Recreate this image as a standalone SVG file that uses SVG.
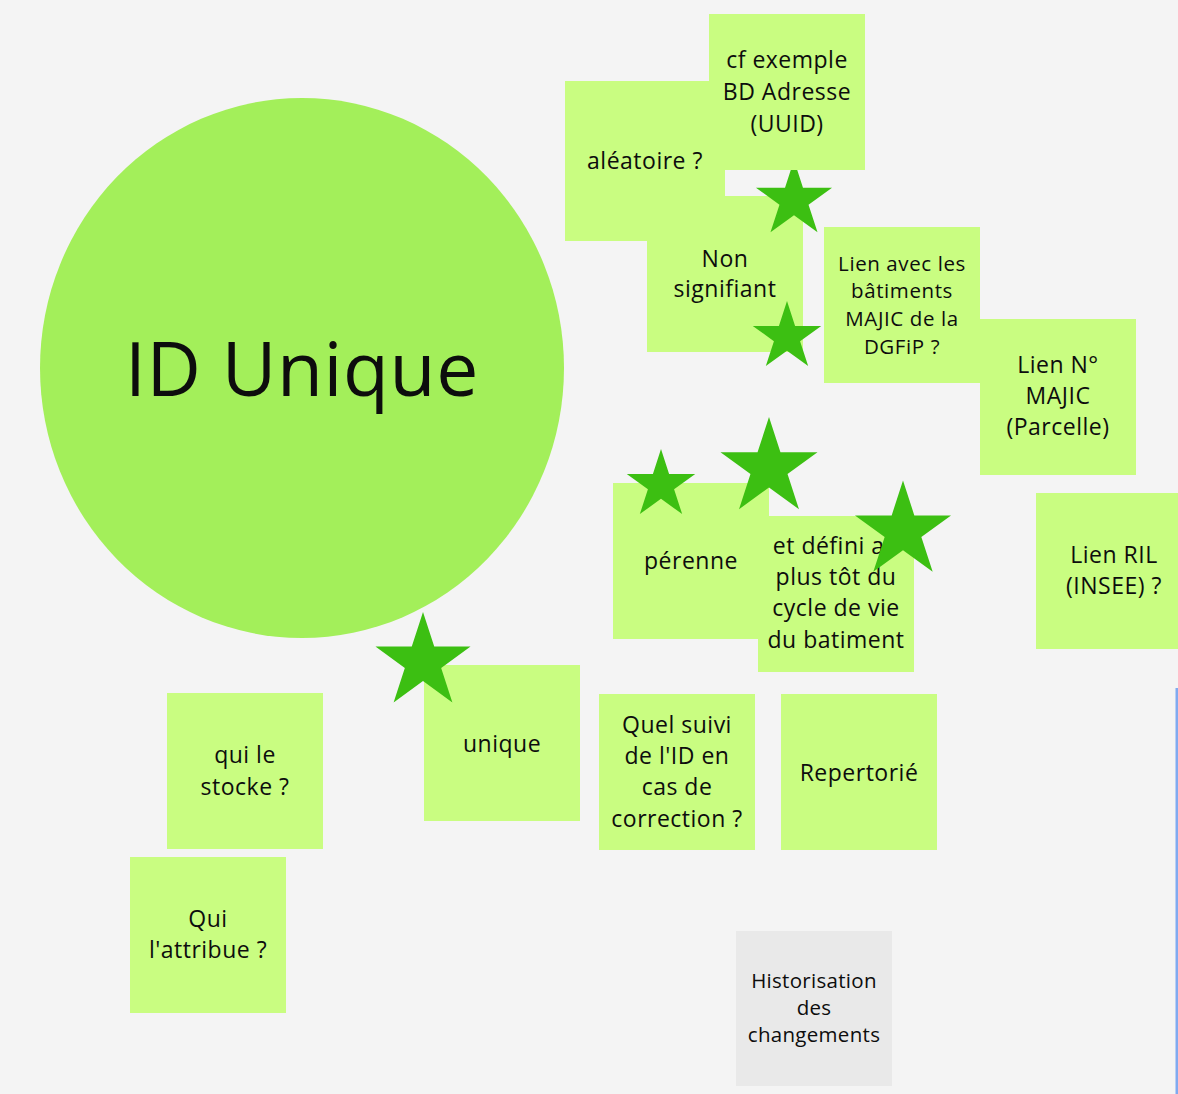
<svg xmlns="http://www.w3.org/2000/svg" xmlns:xlink="http://www.w3.org/1999/xlink" width="1178" height="1094" viewBox="0 0 1178 1094">
<style>
.bg{fill:#f4f4f4}
.note{fill:#c9fd81}
.grey{fill:#e9e9e9}
.star{fill:#3cbf12}
text{font-family:"Open Sans","Liberation Sans",sans-serif;fill:#0d0d0d;text-anchor:middle}
.t22{font-size:23px;letter-spacing:0.5px}
.t19{font-size:20.5px;letter-spacing:0.6px}
.t20{font-size:20.5px;letter-spacing:0.3px}
.big{font-size:75px;letter-spacing:0.6px}
</style>
<defs>
<polygon id="starShape" points="0,-100 22.45,-30.9 95.11,-30.9 36.33,11.8 58.78,80.9 0,38.2 -58.78,80.9 -36.33,11.8 -95.11,-30.9 -22.45,-30.9"/>
</defs>
<rect class="bg" x="0" y="0" width="1178" height="1094"/>

<g id="id-unique">
<ellipse cx="302" cy="368" rx="262" ry="270" fill="#a3ef5a"/>
<text class="big" x="302" y="396">ID Unique</text>
</g>

<g id="aleatoire">
<rect class="note" x="565" y="81" width="160" height="160"/>
<text class="t22" x="645" y="169">aléatoire ?</text>
</g>

<g id="non-signifiant">
<rect class="note" x="647" y="196" width="156" height="156"/>
<text class="t22" x="725" y="267">Non</text>
<text class="t22" x="725" y="297">signifiant</text>
</g>

<g id="star-1"><use xlink:href="#starShape" class="star" transform="translate(794 200) scale(0.4)"/></g>

<g id="cf-exemple">
<rect class="note" x="709" y="14" width="156" height="156"/>
<text class="t22" x="787" y="68">cf exemple</text>
<text class="t22" x="787" y="100">BD Adresse</text>
<text class="t22" x="787" y="132">(UUID)</text>
</g>

<g id="star-2"><use xlink:href="#starShape" class="star" transform="translate(787 337) scale(0.36)"/></g>

<g id="lien-batiments">
<rect class="note" x="824" y="227" width="156" height="156"/>
<text class="t19" x="902" y="271">Lien avec les</text>
<text class="t19" x="902" y="298">bâtiments</text>
<text class="t19" x="902" y="326">MAJIC de la</text>
<text class="t19" x="902" y="354">DGFiP ?</text>
</g>

<g id="lien-majic">
<rect class="note" x="980" y="319" width="156" height="156"/>
<text class="t22" x="1058" y="373">Lien N°</text>
<text class="t22" x="1058" y="404">MAJIC</text>
<text class="t22" x="1058" y="435">(Parcelle)</text>
</g>

<g id="lien-ril">
<rect class="note" x="1036" y="493" width="156" height="156"/>
<text class="t22" x="1114" y="563">Lien RIL</text>
<text class="t22" x="1114" y="594">(INSEE) ?</text>
</g>

<g id="perenne">
<rect class="note" x="613" y="483" width="156" height="156"/>
<text class="t22" x="691" y="569">pérenne</text>
</g>

<g id="defini">
<rect class="note" x="758" y="516" width="156" height="156"/>
<text class="t22" x="836" y="554">et défini au</text>
<text class="t22" x="836" y="585">plus tôt du</text>
<text class="t22" x="836" y="616">cycle de vie</text>
<text class="t22" x="836" y="648">du batiment</text>
</g>

<g id="star-3"><use xlink:href="#starShape" class="star" transform="translate(661 485) scale(0.36)"/></g>
<g id="star-4"><use xlink:href="#starShape" class="star" transform="translate(769 468) scale(0.51)"/></g>
<g id="star-5"><use xlink:href="#starShape" class="star" transform="translate(903 531) scale(0.505)"/></g>

<g id="unique">
<rect class="note" x="424" y="665" width="156" height="156"/>
<text class="t22" x="502" y="752">unique</text>
</g>
<g id="star-6"><use xlink:href="#starShape" class="star" transform="translate(423 662) scale(0.5)"/></g>

<g id="qui-stocke">
<rect class="note" x="167" y="693" width="156" height="156"/>
<text class="t22" x="245" y="763">qui le</text>
<text class="t22" x="245" y="795">stocke ?</text>
</g>

<g id="qui-attribue">
<rect class="note" x="130" y="857" width="156" height="156"/>
<text class="t22" x="208" y="927">Qui</text>
<text class="t22" x="208" y="958">l'attribue ?</text>
</g>

<g id="quel-suivi">
<rect class="note" x="599" y="694" width="156" height="156"/>
<text class="t22" x="677" y="733">Quel suivi</text>
<text class="t22" x="677" y="764">de l'ID en</text>
<text class="t22" x="677" y="795">cas de</text>
<text class="t22" x="677" y="827">correction ?</text>
</g>

<g id="repertorie">
<rect class="note" x="781" y="694" width="156" height="156"/>
<text class="t22" x="859" y="781">Repertorié</text>
</g>

<g id="historisation">
<rect class="grey" x="736" y="931" width="156" height="155"/>
<text class="t20" x="814" y="988">Historisation</text>
<text class="t20" x="814" y="1015">des</text>
<text class="t20" x="814" y="1042">changements</text>
</g>

<rect x="1175.5" y="688" width="2.5" height="406" fill="#80aaf0"/>
</svg>
